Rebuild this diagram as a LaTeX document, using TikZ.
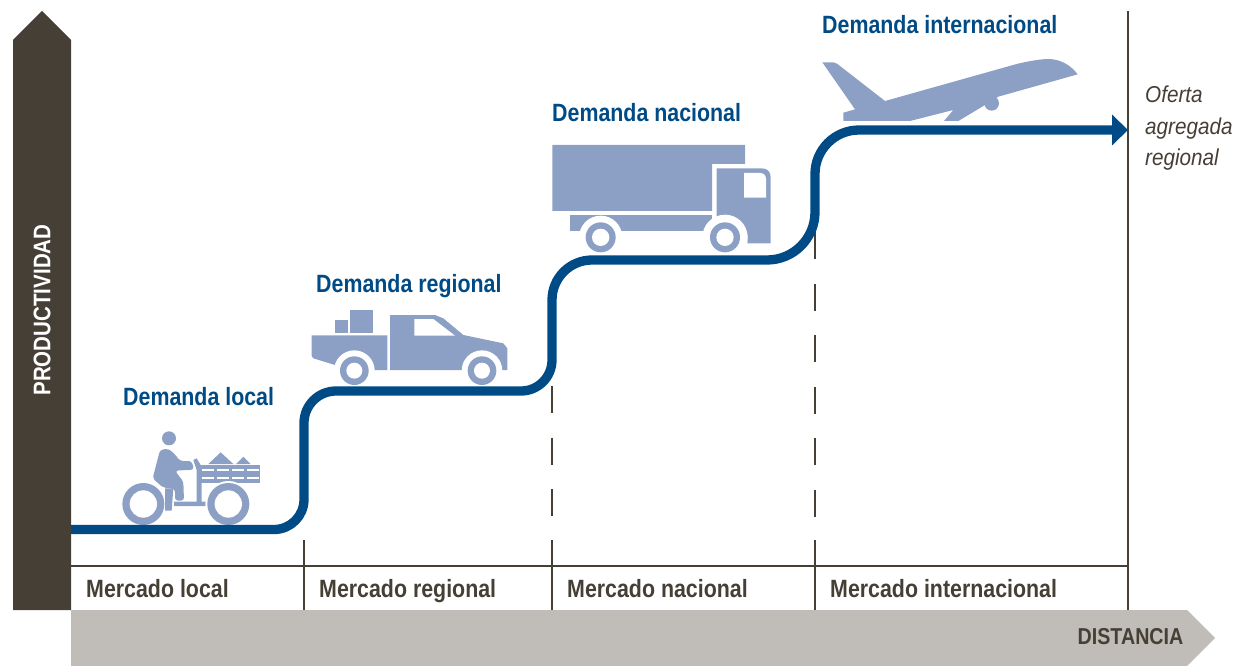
\documentclass[tikz,border=0pt]{standalone}
\usepackage{fontspec}
\usepackage{tikz}
\usetikzlibrary{arrows.meta}
\newfontfamily\condfont[FakeStretch=0.855]{Liberation Sans}
\newfontfamily\thinfont[FakeStretch=0.90]{Liberation Sans}
\definecolor{navy}{HTML}{004B85}
\definecolor{iconblue}{HTML}{8C9FC5}
\definecolor{axisdark}{HTML}{453F35}
\definecolor{axisgray}{HTML}{C0BDB8}
\tikzset{
    icon/.style={fill=iconblue},
    blank/.style={fill=white},
    rule/.style={draw=axisdark,line width=1.7pt},
    dashrule/.style={rule,dash pattern=on 27pt off 24.5pt},
    demand/.style={text=navy,font=\condfont\bfseries\fontsize{25}{25}\selectfont,anchor=base west,inner sep=0pt},
    market/.style={text=axisdark,font=\condfont\bfseries\fontsize{25}{25}\selectfont,anchor=base west,inner sep=0pt},
}
\begin{document}
\begin{tikzpicture}[x=1pt,y=-1pt]
    \useasboundingbox (0,0) rectangle (1242,666);
    % axes
    \fill[axisdark] (13,610) -- (13,40) -- (42,11) -- (71,40) -- (71,610) -- cycle;
    \fill[axisgray] (71,610) -- (1187,610) -- (1215,638) -- (1187,666) -- (71,666) -- cycle;
    \node[text=white,font=\condfont\bfseries\fontsize{24}{24}\selectfont,rotate=90,inner sep=0pt] (prod) at (42,310) {PRODUCTIVIDAD};
    \node[text=axisdark,font=\condfont\bfseries\fontsize{23}{23}\selectfont,inner sep=0pt] (dist) at (1130.5,637) {DISTANCIA};
    % grid
    \coordinate (left) at (71,566);
    \coordinate (right) at (1128,566);
    \coordinate (top) at (1128,11);
    \coordinate (end) at (1128,610);
    \draw[rule] (left) -- (right);
    \draw[rule] (top) -- (end);
    \draw[rule] (304,540) coordinate (tickA) -- (304,610) coordinate (baseA);
    \draw[dashrule] (552,386) coordinate (tickB) -- (552,566) coordinate (midB);
    \draw[rule] (552,540) coordinate (soldB) -- (552,610) coordinate (baseB);
    \draw[dashrule] (815,232) coordinate (tickC) -- (815,566) coordinate (midC);
    \draw[rule] (815,540) coordinate (soldC) -- (815,610) coordinate (baseC);
    % labels
    \node[demand] (dlocal) at (123,405.5) {Demanda local};
    \node[demand] (dregional) at (316,292.5) {Demanda regional};
    \node[demand] (dnacional) at (552,122) {Demanda nacional};
    \node[demand] (dinter) at (822,34) {Demanda internacional};
    \node[market] (mlocal) at (86,597.5) {Mercado local};
    \node[market] (mregional) at (319,597.5) {Mercado regional};
    \node[market] (mnacional) at (567,597.5) {Mercado nacional};
    \node[market] (minter) at (830,597.5) {Mercado internacional};
    \node[text=axisdark,font=\thinfont\itshape\fontsize{23}{31.5}\selectfont,align=left,anchor=north west,inner sep=0pt] (oferta) at (1145,86) {Oferta\\agregada\\regional};
    % tricycle
    \begin{scope}[shift={(100,420)},scale=1/3]
        \fill[icon] (207,55) circle (21);
        \fill[icon,rounded corners=3pt] (180,90) -- (205,86) -- (225,103) -- (240,123) -- (275,123) -- (282,149) -- (225,152) -- (250,185) -- (252,242) -- (225,242) -- (225,207) -- (188,202) -- (158,175) -- cycle;
        \fill[icon] (195,205) -- (220,205) -- (215,272) -- (195,272) -- cycle;
        \fill[icon] (280,120) -- (290,115) -- (305,140) -- (305,245) -- (335,245) -- (335,258) -- (222,258) -- (222,245) -- (290,245) -- (290,150) -- cycle;
        \fill[icon] (295,135) rectangle (480,188);
        \foreach \x in {305,350,395,442} {
            \fill[blank] (\x,146) rectangle ++(36,7);
            \fill[blank] (\x,170) rectangle ++(36,7);
        }
        \fill[icon] (325,132) -- (362,97) -- (400,132) -- cycle;
        \fill[icon] (408,132) -- (430,110) -- (452,132) -- cycle;
        \fill[blank] (385,252) circle (69);
        \foreach \x/\y in {130/252,385/252} {
            \fill[icon] (\x,\y) circle (63);
            \fill[blank] (\x,\y) circle (41);
        }
    \end{scope}
    % pickup
    \begin{scope}[shift={(300,300)},scale=1/3]
        \fill[icon] (105,60) rectangle (144,98);
        \fill[icon] (150,30) rectangle (218,98);
        \fill[icon] (35,106) -- (262,106) -- (262,210) -- (200,210) -- (105,195) -- (40,175) -- (35,168) -- cycle;
        \fill[icon] (270,45) -- (405,45) -- (430,55) -- (490,105) -- (610,130) -- (622,145) -- (622,210) -- (270,210) -- cycle;
        \fill[blank] (343,57) -- (400,57) -- (465,107) -- (343,107) -- cycle;
        \foreach \x/\y in {163/212,546/212} {
            \fill[blank] (\x,\y) circle (61);
            \fill[icon] (\x,\y) circle (43);
            \fill[blank] (\x,\y) circle (24);
        }
    \end{scope}
    % truck
    \begin{scope}[shift={(540,135)},scale=1/3]
        \fill[icon] (37,30) -- (615,30) -- (615,87) -- (516,87) -- (516,228) -- (37,228) -- cycle;
        \fill[icon] (90,240) rectangle (516,288);
        \fill[icon] (530,100) -- (665,100) .. controls (682,100) and (692,110) .. (692,127) -- (692,325) -- (622,325) -- (622,300) -- (530,300) -- cycle;
        \fill[blank] (612,114) -- (660,114) .. controls (672,114) and (678,122) .. (678,132) -- (678,188) -- (612,188) -- cycle;
        \foreach \x/\y/\r in {182/307/65,555/307/68} {
            \fill[blank] (\x,\y) circle (\r);
            \fill[icon] (\x,\y) circle (45);
            \fill[blank] (\x,\y) circle (26);
        }
    \end{scope}
    % plane
    \begin{scope}[shift={(810,50)},scale=1/3]
        \fill[icon] (37,37) -- (70,37) .. controls (78,38) and (85,43) .. (90,48) -- (225,153) -- (620,42) .. controls (670,30) and (700,27) .. (720,27) .. controls (760,30) and (785,50) .. (803,73) -- (565,140) -- (520,168) -- (445,213) -- (402,213) -- (430,180) -- (300,213) -- (100,213) -- (100,188) -- (135,178) -- cycle;
        \fill[icon] (545,160) circle (22);
    \end{scope}
    % stairs
    \coordinate (start) at (71,529.5);
    \coordinate (stop) at (1128,130);
    \draw[navy,line width=9.3pt,-{Triangle[length=16pt,width=30pt]}] (start)
        [rounded corners=30pt] -- (304,529.5)
        [rounded corners=32pt] -- (304,391)
        [rounded corners=31pt] -- (552,391)
        [rounded corners=40pt] -- (552,260)
        [rounded corners=48pt] -- (815,260)
        [rounded corners=44pt] -- (815,130)
        [sharp corners] -- (stop);
\end{tikzpicture}
\end{document}
